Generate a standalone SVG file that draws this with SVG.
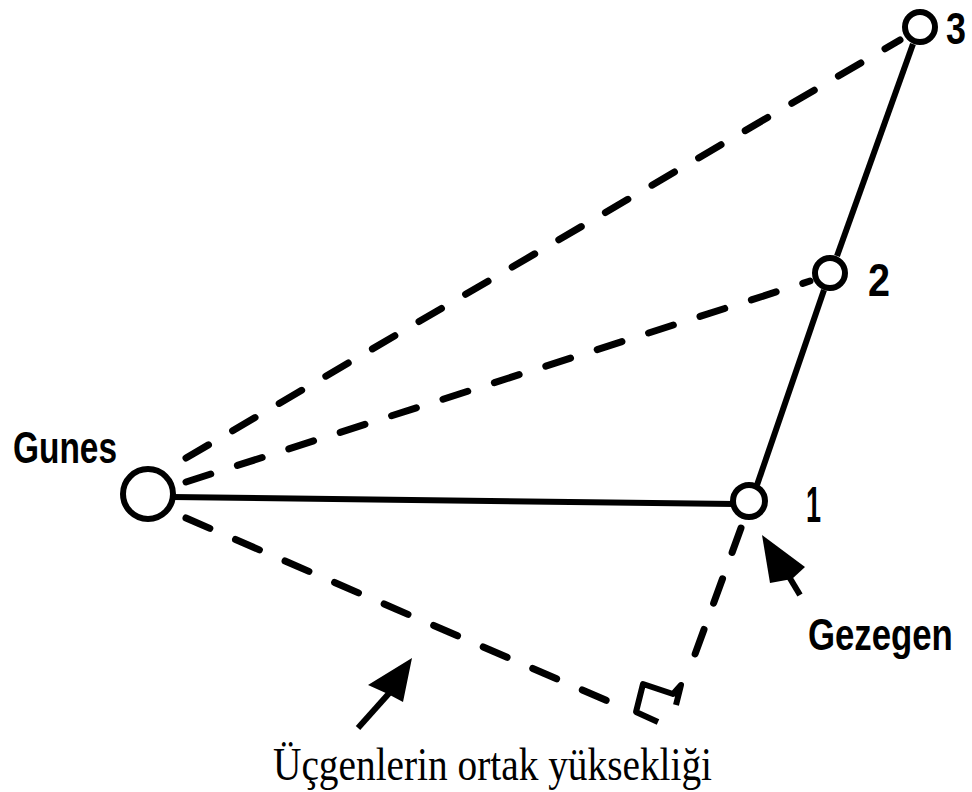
<svg xmlns="http://www.w3.org/2000/svg" width="972" height="792" viewBox="0 0 972 792">
<style>
.solid{stroke:#000;stroke-width:6;fill:none;stroke-linecap:butt}
.dash{stroke:#000;stroke-width:7;fill:none;stroke-linecap:round;stroke-dasharray:26 28}
.body{stroke:#000;stroke-width:6;fill:#fff}
.lbl{font-family:"Liberation Sans",Arial,sans-serif;font-weight:bold;fill:#000}
.cap{font-family:"Liberation Serif","Times New Roman",serif;fill:#000}
</style>
<rect width="972" height="792" fill="#fff"/>
<g id="connectors">
<line class="dash" x1="186" y1="458" x2="900" y2="40"/>
<line class="dash" x1="186" y1="482" x2="810" y2="281"/>
<line class="dash" x1="186" y1="518" x2="610" y2="702"/>
<line class="dash" x1="741" y1="528" x2="694" y2="657"/>
<line class="solid" x1="172" y1="497" x2="735" y2="504"/>
<line class="solid" x1="757" y1="485" x2="824" y2="290"/>
<line class="solid" x1="837" y1="256" x2="913" y2="44"/>
<path class="solid" d="M676,705 L681,685 L673,694 L643,684 L636,712 L658,722" stroke-width="8" stroke-linejoin="round"/>
</g>
<g id="gunes">
<circle class="body" cx="148" cy="494" r="25" stroke-width="7"/>
<text class="lbl" transform="matrix(0.76 0 0 1 13 463)" font-size="44">Gunes</text>
</g>
<g id="p1">
<circle class="body" cx="749" cy="501" r="16"/>
<text class="lbl" x="806" y="522" font-size="50" textLength="15" lengthAdjust="spacingAndGlyphs">1</text>
</g>
<g id="p2">
<circle class="body" cx="830" cy="273" r="15"/>
<text class="lbl" x="868" y="296" font-size="46" textLength="22" lengthAdjust="spacingAndGlyphs">2</text>
</g>
<g id="p3">
<circle class="body" cx="920" cy="27" r="15"/>
<text class="lbl" x="946" y="44" font-size="44" textLength="20" lengthAdjust="spacingAndGlyphs">3</text>
</g>
<g id="gezegen">
<polygon points="762,535 805,567 792,579 770,583" fill="#000"/>
<line class="solid" x1="788" y1="575" x2="800" y2="595"/>
<text class="lbl" transform="matrix(0.79 0 0 1 808 650)" font-size="44">Gezegen</text>
</g>
<g id="yukseklik">
<polygon points="412,658 403,702 388,694 368,685" fill="#000"/>
<line class="solid" x1="392" y1="690" x2="358" y2="728"/>
<text class="cap" x="273" y="780" font-size="47" textLength="439" lengthAdjust="spacingAndGlyphs">Üçgenlerin ortak yüksekliği</text>
</g>
</svg>
